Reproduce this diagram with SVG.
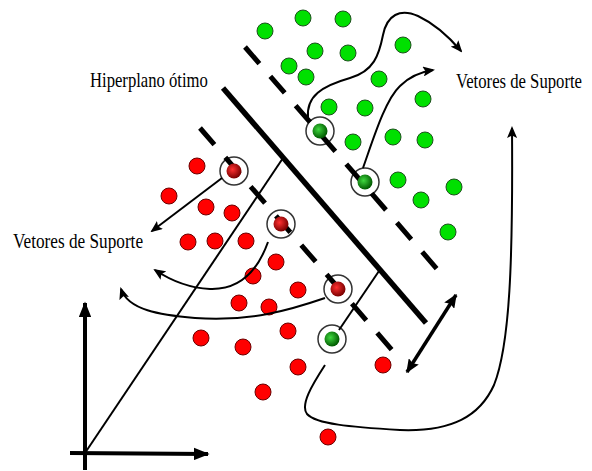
<svg xmlns="http://www.w3.org/2000/svg" width="592" height="471" viewBox="0 0 592 471">
<style>
.g{fill:#00e000;stroke:#1f4f1f;stroke-width:1}
.r{fill:#ff0000;stroke:#6a0000;stroke-width:1}
.ring{fill:#fff;stroke:#333;stroke-width:1.5}
.dash{fill:none;stroke:#000;stroke-width:5;stroke-dasharray:22 16.7}
.thin{fill:none;stroke:#000;stroke-width:2}
.lbl{font-family:"Liberation Serif","Times New Roman",serif;font-size:20px;fill:#000}
</style>
<defs>
<radialGradient id="gg" cx="40%" cy="40%" r="60%"><stop offset="0" stop-color="#3fd83f"/><stop offset="1" stop-color="#005a00"/></radialGradient>
<radialGradient id="rg" cx="40%" cy="40%" r="60%"><stop offset="0" stop-color="#ff3030"/><stop offset="1" stop-color="#7a0000"/></radialGradient>
<marker id="ah" markerWidth="6" markerHeight="5" refX="5" refY="2.5" orient="auto" markerUnits="strokeWidth"><path d="M0,0 L6,2.5 L0,5 L1.2,2.5 z" fill="#000"/></marker>
<marker id="ax" markerWidth="4" markerHeight="3.2" refX="3.6" refY="1.6" orient="auto" markerUnits="strokeWidth"><path d="M0,0 L4,1.6 L0,3.2 z" fill="#000"/></marker>
<marker id="dh" markerWidth="4" markerHeight="3.4" refX="3.6" refY="1.7" orient="auto-start-reverse" markerUnits="strokeWidth"><path d="M0,0 L4,1.7 L0,3.4 L0.6,1.7 z" fill="#000"/></marker>
</defs>

<g id="green-points">
<g id="gp1"><circle class="g" cx="265" cy="31" r="8"/></g>
<g id="gp2"><circle class="g" cx="303" cy="18" r="8"/></g>
<g id="gp3"><circle class="g" cx="343" cy="19" r="8"/></g>
<g id="gp4"><circle class="g" cx="315" cy="51" r="8"/></g>
<g id="gp5"><circle class="g" cx="348" cy="53" r="8"/></g>
<g id="gp6"><circle class="g" cx="289" cy="66" r="8"/></g>
<g id="gp7"><circle class="g" cx="306" cy="77" r="8"/></g>
<g id="gp8"><circle class="g" cx="403" cy="45" r="8"/></g>
<g id="gp9"><circle class="g" cx="379" cy="79" r="8"/></g>
<g id="gp10"><circle class="g" cx="423" cy="99" r="8"/></g>
<g id="gp11"><circle class="g" cx="329" cy="107" r="8"/></g>
<g id="gp12"><circle class="g" cx="365" cy="108" r="8"/></g>
<g id="gp13"><circle class="g" cx="353" cy="142" r="8"/></g>
<g id="gp14"><circle class="g" cx="393" cy="137" r="8"/></g>
<g id="gp15"><circle class="g" cx="425" cy="140" r="8"/></g>
<g id="gp16"><circle class="g" cx="398" cy="180" r="8"/></g>
<g id="gp17"><circle class="g" cx="421" cy="200" r="8"/></g>
<g id="gp18"><circle class="g" cx="454" cy="187" r="8"/></g>
<g id="gp19"><circle class="g" cx="448" cy="232" r="8"/></g>
</g>

<g id="red-points">
<g id="rp1"><circle class="r" cx="197" cy="166" r="8"/></g>
<g id="rp2"><circle class="r" cx="169" cy="196" r="8"/></g>
<g id="rp3"><circle class="r" cx="206" cy="207" r="8"/></g>
<g id="rp4"><circle class="r" cx="232" cy="213" r="8"/></g>
<g id="rp5"><circle class="r" cx="188" cy="242" r="8"/></g>
<g id="rp6"><circle class="r" cx="215" cy="241" r="8"/></g>
<g id="rp7"><circle class="r" cx="246" cy="241" r="8"/></g>
<g id="rp8"><circle class="r" cx="276" cy="262" r="8"/></g>
<g id="rp9"><circle class="r" cx="253" cy="276" r="8"/></g>
<g id="rp10"><circle class="r" cx="298" cy="290" r="8"/></g>
<g id="rp11"><circle class="r" cx="239" cy="303" r="8"/></g>
<g id="rp12"><circle class="r" cx="269" cy="307" r="8"/></g>
<g id="rp13"><circle class="r" cx="201" cy="338" r="8"/></g>
<g id="rp14"><circle class="r" cx="243" cy="347" r="8"/></g>
<g id="rp15"><circle class="r" cx="288" cy="331" r="8"/></g>
<g id="rp16"><circle class="r" cx="298" cy="367" r="8"/></g>
<g id="rp17"><circle class="r" cx="263" cy="392" r="8"/></g>
<g id="rp18"><circle class="r" cx="383" cy="365" r="8"/></g>
<g id="rp19"><circle class="r" cx="328" cy="437" r="8"/></g>
</g>

<g id="sv-rings">
<circle class="ring" cx="320" cy="131" r="14"/>
<circle class="ring" cx="365" cy="182" r="14"/>
<circle class="ring" cx="234" cy="171" r="14"/>
<circle class="ring" cx="281" cy="224" r="14"/>
<circle class="ring" cx="338" cy="289" r="14"/>
<circle class="ring" cx="332" cy="339" r="14"/>
</g>

<g id="connectors">
<line id="hyperplane" x1="223" y1="88" x2="426" y2="323" stroke="#000" stroke-width="5.5"/>
<line id="margin-green" class="dash" x1="245" y1="47" x2="437" y2="269"/>
<line id="margin-red" class="dash" x1="200" y1="128" x2="392" y2="350"/>
<line class="thin" x1="85" y1="453" x2="283" y2="158"/>
<line class="thin" x1="339" y1="330" x2="379" y2="271"/>
<line x1="85" y1="470" x2="85" y2="303" stroke="#000" stroke-width="4" marker-end="url(#ax)"/>
<line x1="70" y1="453" x2="208" y2="454" stroke="#000" stroke-width="4" marker-end="url(#ax)"/>
<line x1="407" y1="372" x2="456" y2="295" stroke="#000" stroke-width="3.5" marker-start="url(#dh)" marker-end="url(#dh)"/>
<path class="thin" d="M222,178 L152,231" marker-end="url(#ah)"/>
<path class="thin" d="M268,242 C258,270 240,290 210,289 C190,288 170,280 155,270" marker-end="url(#ah)"/>
<path class="thin" d="M325,298 C290,310 250,322 195,318 C160,315 128,310 121,289" marker-end="url(#ah)"/>
<path class="thin" d="M308,118 C306,96 322,86 350,78 C374,71 379,55 383,35 C387,15 400,8 418,16 C435,24 450,38 461,51" marker-end="url(#ah)"/>
<path class="thin" d="M363,168 C373,140 385,100 400,86 C410,76 420,72 433,70" marker-end="url(#ah)"/>
<path class="thin" d="M325,365 C312,385 300,405 307,414 C316,424 350,427 400,430 C452,432 480,416 494,385 C510,345 513,260 512,128" marker-end="url(#ah)"/>
</g>

<g id="sv-dots">
<circle cx="320" cy="131" r="7.5" fill="url(#gg)"/>
<circle cx="365" cy="182" r="7.5" fill="url(#gg)"/>
<circle cx="332" cy="339" r="7.5" fill="url(#gg)"/>
<circle cx="234" cy="171" r="7.5" fill="url(#rg)"/>
<circle cx="281" cy="224" r="7.5" fill="url(#rg)"/>
<circle cx="338" cy="289" r="7.5" fill="url(#rg)"/>
</g>

<g id="label-hiperplano"><text class="lbl" transform="translate(90,87) scale(0.833,1)">Hiperplano ótimo</text></g>
<g id="label-sv-right"><text class="lbl" transform="translate(456,88) scale(0.835,1)">Vetores de Suporte</text></g>
<g id="label-sv-left"><text class="lbl" transform="translate(13,248) scale(0.861,1)">Vetores de Suporte</text></g>
</svg>
